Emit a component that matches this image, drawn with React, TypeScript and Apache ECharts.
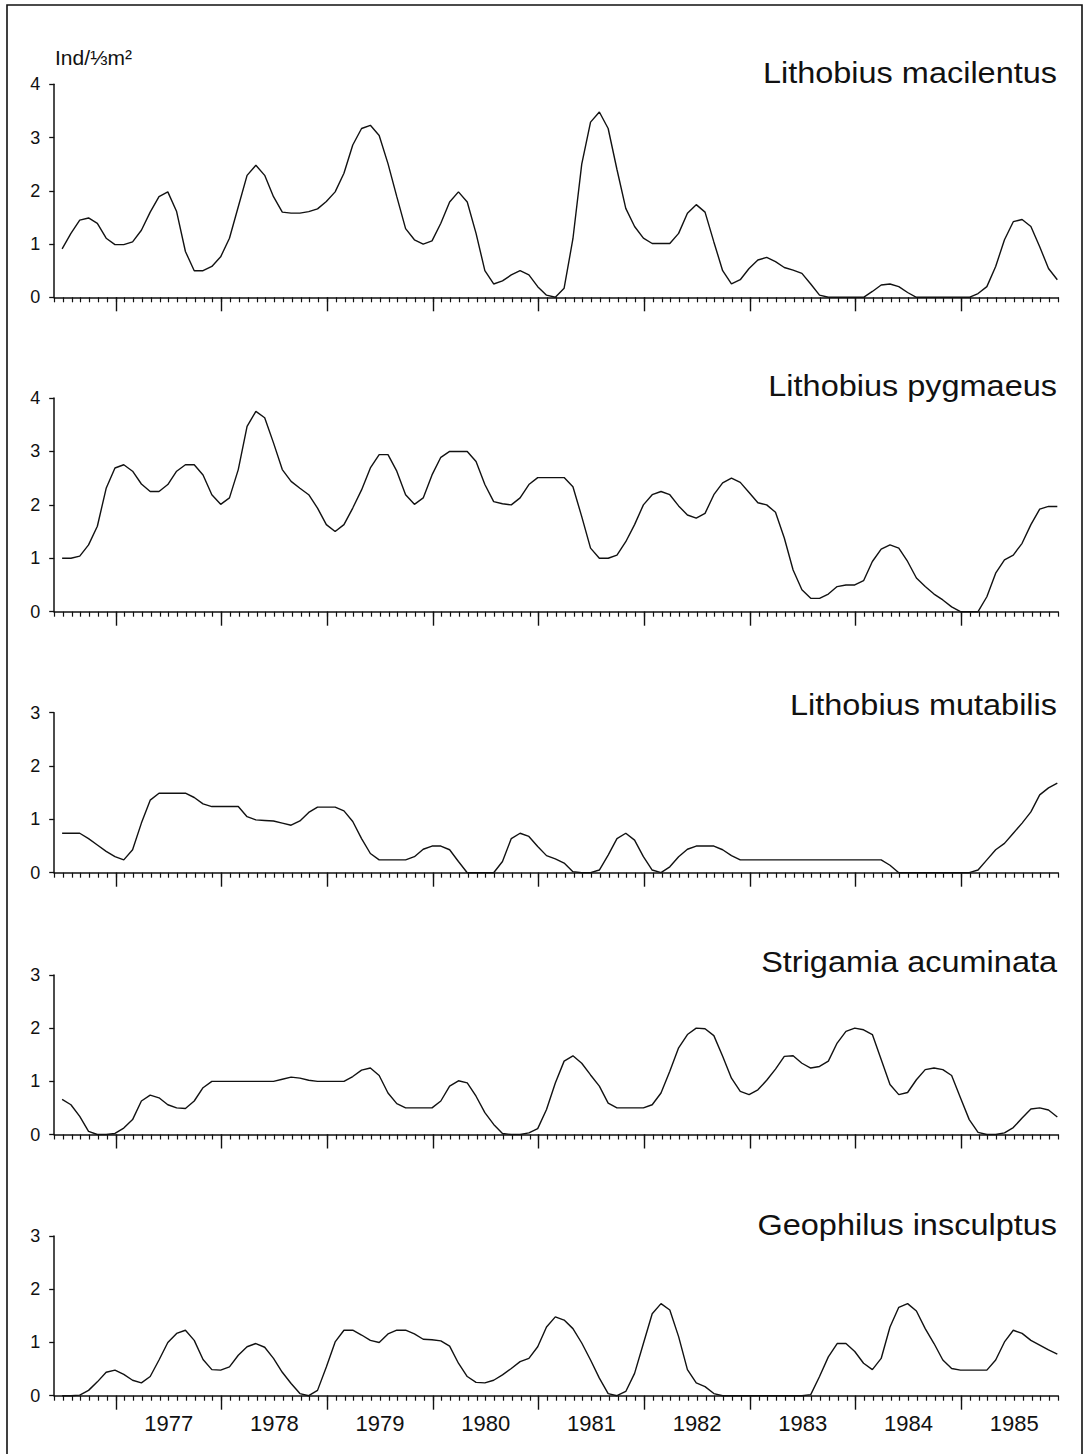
import React, { useEffect, useRef } from "react";
import * as echarts from "echarts";

// x axis: one unit = one month; 0 = first tick of the axis (mid 1976)
const AXIS_MONTHS = 114;
const FIRST_SAMPLE = 0.9;
const YEAR_TICKS = [7, 19, 31, 43, 55, 67, 79, 91, 103];
const YEAR_LABEL_POS = [13, 25, 37, 49, 61, 73, 85, 97, 109];
const YEARS = ["1977", "1978", "1979", "1980", "1981", "1982", "1983", "1984", "1985"];

const TITLES = [
  "Lithobius macilentus",
  "Lithobius pygmaeus",
  "Lithobius mutabilis",
  "Strigamia acuminata",
  "Geophilus insculptus",
];
const Y_MAX = [4, 4, 3, 3, 3];
const UNIT_LABEL = "Ind/⅓m²";

const MACILENTUS = [
  0.91, 1.2, 1.45, 1.49, 1.39, 1.11, 0.99, 0.99, 1.04, 1.26, 1.6, 1.89, 1.98, 1.61, 0.86, 0.5, 0.5, 0.58, 0.76, 1.11,
  1.7, 2.29, 2.48, 2.29, 1.89, 1.6, 1.58, 1.58, 1.61, 1.66, 1.8, 1.98, 2.33, 2.86, 3.17, 3.23, 3.04, 2.51, 1.89, 1.29,
  1.08, 1.0, 1.06, 1.39, 1.79, 1.98, 1.79, 1.2, 0.5, 0.25, 0.31, 0.42, 0.5, 0.42, 0.2, 0.04, 0, 0.17, 1.1, 2.5,
  3.29, 3.48, 3.17, 2.4, 1.67, 1.33, 1.11, 1.01, 1.01, 1.01, 1.2, 1.58, 1.74, 1.6, 1.04, 0.5, 0.25, 0.33, 0.54, 0.7,
  0.75, 0.67, 0.56, 0.51, 0.45, 0.25, 0.04, 0, 0, 0, 0, 0, 0.11, 0.23, 0.25, 0.2, 0.09, 0, 0, 0,
  0, 0, 0, 0, 0.07, 0.2, 0.58, 1.08, 1.42, 1.46, 1.33, 0.95, 0.54, 0.33,
];

const PYGMAEUS = [
  1.0, 1.0, 1.04, 1.25, 1.6, 2.31, 2.69, 2.75, 2.63, 2.39, 2.25, 2.25, 2.38, 2.63, 2.75, 2.75, 2.56, 2.19, 2.01, 2.13,
  2.66, 3.47, 3.75, 3.63, 3.16, 2.66, 2.44, 2.31, 2.19, 1.94, 1.63, 1.5, 1.63, 1.94, 2.28, 2.69, 2.94, 2.94, 2.63, 2.19,
  2.01, 2.13, 2.56, 2.89, 3.0, 3.0, 3.0, 2.81, 2.38, 2.06, 2.02, 2.0, 2.13, 2.38, 2.51, 2.51, 2.51, 2.51, 2.34, 1.78,
  1.19, 1.0, 1.0, 1.06, 1.31, 1.63, 2.0, 2.19, 2.25, 2.19, 1.98, 1.81, 1.75, 1.84, 2.19, 2.41, 2.5, 2.42, 2.23, 2.04,
  2.0, 1.86, 1.38, 0.78, 0.41, 0.25, 0.25, 0.33, 0.47, 0.5, 0.5, 0.58, 0.94, 1.17, 1.25, 1.19, 0.94, 0.63, 0.47, 0.33,
  0.22, 0.09, 0, 0, 0, 0.28, 0.72, 0.97, 1.06, 1.28, 1.63, 1.92, 1.97, 1.97,
];

const MUTABILIS = [
  0.74, 0.74, 0.74, 0.64, 0.52, 0.4, 0.3, 0.24, 0.43, 0.93, 1.36, 1.49, 1.49, 1.49, 1.49, 1.41, 1.29, 1.24, 1.24, 1.24,
  1.24, 1.05, 0.99, 0.98, 0.97, 0.93, 0.89, 0.97, 1.13, 1.23, 1.23, 1.23, 1.16, 0.96, 0.64, 0.36, 0.24, 0.24, 0.24, 0.24,
  0.3, 0.44, 0.5, 0.5, 0.43, 0.21, 0, 0, 0, 0, 0.21, 0.64, 0.74, 0.68, 0.49, 0.32, 0.26, 0.18, 0.02, 0,
  0, 0.05, 0.33, 0.64, 0.74, 0.61, 0.3, 0.05, 0, 0.11, 0.3, 0.44, 0.5, 0.5, 0.5, 0.43, 0.32, 0.24, 0.24, 0.24,
  0.24, 0.24, 0.24, 0.24, 0.24, 0.24, 0.24, 0.24, 0.24, 0.24, 0.24, 0.24, 0.24, 0.24, 0.14, 0, 0, 0, 0, 0,
  0, 0, 0, 0, 0.05, 0.24, 0.43, 0.55, 0.74, 0.93, 1.14, 1.46, 1.59, 1.68,
];

const ACUMINATA = [
  0.66, 0.56, 0.34, 0.06, 0, 0, 0.02, 0.12, 0.28, 0.63, 0.74, 0.69, 0.56, 0.5, 0.49, 0.63, 0.88, 1.0, 1.0, 1.0,
  1.0, 1.0, 1.0, 1.0, 1.0, 1.04, 1.08, 1.06, 1.02, 1.0, 1.0, 1.0, 1.0, 1.09, 1.21, 1.25, 1.11, 0.78, 0.58, 0.5,
  0.5, 0.5, 0.5, 0.63, 0.91, 1.01, 0.97, 0.72, 0.41, 0.19, 0.02, 0, 0, 0.03, 0.11, 0.47, 0.97, 1.38, 1.48, 1.34,
  1.12, 0.91, 0.59, 0.5, 0.5, 0.5, 0.5, 0.56, 0.78, 1.19, 1.63, 1.88, 2.0, 1.99, 1.86, 1.47, 1.06, 0.81, 0.75, 0.84,
  1.02, 1.23, 1.47, 1.48, 1.34, 1.25, 1.28, 1.38, 1.72, 1.94, 2.0, 1.97, 1.88, 1.41, 0.94, 0.75, 0.79, 1.03, 1.22, 1.25,
  1.22, 1.11, 0.69, 0.28, 0.04, 0, 0, 0.03, 0.13, 0.31, 0.48, 0.5, 0.46, 0.33,
];

const INSCULPTUS = [
  0, 0, 0.01, 0.1, 0.26, 0.44, 0.48, 0.4, 0.29, 0.24, 0.36, 0.67, 1.0, 1.17, 1.23, 1.04, 0.68, 0.49, 0.48, 0.54,
  0.76, 0.92, 0.98, 0.91, 0.7, 0.44, 0.23, 0.04, 0, 0.1, 0.54, 1.01, 1.23, 1.23, 1.14, 1.04, 1.0, 1.16, 1.23, 1.23,
  1.16, 1.06, 1.05, 1.03, 0.93, 0.61, 0.36, 0.25, 0.24, 0.29, 0.39, 0.51, 0.64, 0.7, 0.92, 1.29, 1.48, 1.42, 1.26, 0.99,
  0.67, 0.33, 0.04, 0, 0.08, 0.42, 0.98, 1.54, 1.73, 1.61, 1.11, 0.49, 0.24, 0.17, 0.04, 0, 0, 0, 0, 0,
  0, 0, 0, 0, 0, 0.02, 0.36, 0.73, 0.98, 0.98, 0.83, 0.61, 0.49, 0.7, 1.29, 1.66, 1.73, 1.59, 1.26, 0.98,
  0.67, 0.51, 0.48, 0.48, 0.48, 0.48, 0.67, 1.01, 1.23, 1.17, 1.04, 0.95, 0.86, 0.78,
];

const SERIES_VALUES = [MACILENTUS, PYGMAEUS, MUTABILIS, ACUMINATA, INSCULPTUS];

// layout (pixels)
const GRID_LEFT = 54.2;
const GRID_WIDTH = 1004;
const GRID_TOPS = [84.3, 398, 712.7, 975, 1236];
const GRID_HEIGHTS = [213, 213.7, 160, 159.5, 159.7];
const TITLE_Y = [73, 386, 705.5, 962, 1225];

const FONT = '"Liberation Sans", Arial, Helvetica, sans-serif';
const INK = "#111";

export default function App() {
  const ref = useRef<HTMLDivElement>(null);

  useEffect(() => {
    if (!ref.current) return;
    const chart = echarts.init(ref.current, null, { renderer: "svg" });

    const grid: any[] = [];
    const xAxis: any[] = [];
    const yAxis: any[] = [];
    const series: any[] = [];
    const graphic: any[] = [];

    SERIES_VALUES.forEach((vals, g) => {
      grid.push({ left: GRID_LEFT, top: GRID_TOPS[g], width: GRID_WIDTH, height: GRID_HEIGHTS[g], containLabel: false });
      // monthly minor ticks + axis line
      xAxis.push({
        type: "value",
        gridIndex: g,
        position: "bottom",
        min: 0,
        max: AXIS_MONTHS,
        interval: 1,
        axisLine: { show: true, onZero: false, lineStyle: { color: INK, width: 1.5 } },
        axisTick: { show: true, length: 5, lineStyle: { color: INK, width: 1.2 } },
        axisLabel: { show: false },
        splitLine: { show: false },
      });
      // yearly major ticks and year labels
      xAxis.push({
        type: "value",
        gridIndex: g,
        position: "bottom",
        min: 0,
        max: AXIS_MONTHS,
        axisLine: { show: false, onZero: false },
        axisTick: { show: true, length: 14, customValues: YEAR_TICKS, lineStyle: { color: INK, width: 1.4 } },
        axisLabel: {
          show: g === SERIES_VALUES.length - 1,
          customValues: YEAR_LABEL_POS,
          formatter: (v: number) => {
            const idx = YEAR_LABEL_POS.indexOf(Math.round(v));
            return idx >= 0 ? YEARS[idx] : "";
          },
          fontSize: 22,
          fontFamily: FONT,
          color: INK,
          margin: 17,
        },
        splitLine: { show: false },
      });
      yAxis.push({
        type: "value",
        gridIndex: g,
        min: 0,
        max: Y_MAX[g],
        interval: 1,
        axisLine: { show: true, lineStyle: { color: INK, width: 1.5 } },
        axisTick: { show: true, length: 5, lineStyle: { color: INK, width: 1.3 } },
        axisLabel: { fontSize: 18, fontFamily: FONT, color: INK, margin: 14 },
        splitLine: { show: false },
      });
      series.push({
        type: "line",
        name: TITLES[g],
        xAxisIndex: g * 2,
        yAxisIndex: g,
        data: vals.map((v, j) => [FIRST_SAMPLE + j, v]),
        symbol: "none",
        showSymbol: false,
        smooth: false,
        clip: false,
        lineStyle: { color: INK, width: 1.4 },
      });
      graphic.push({
        type: "text",
        x: 1057,
        y: TITLE_Y[g],
        scaleX: 1.12,
        style: {
          text: TITLES[g],
          fill: INK,
          fontSize: 29,
          fontFamily: FONT,
          align: "right",
          verticalAlign: "middle",
          textAlign: "right",
          textVerticalAlign: "middle",
        },
      });
    });

    graphic.push({
      type: "text",
      x: 55,
      y: 57.5,
      style: {
        text: UNIT_LABEL,
        fill: INK,
        fontSize: 21,
        fontFamily: FONT,
        align: "left",
        verticalAlign: "middle",
        textAlign: "left",
        textVerticalAlign: "middle",
      },
    });
    graphic.push({
      type: "rect",
      shape: { x: 7, y: 5, width: 1075, height: 1470 },
      style: { fill: "none", stroke: INK, lineWidth: 1.6 },
      silent: true,
    });

    chart.setOption({
      animation: false,
      backgroundColor: "#ffffff",
      grid,
      xAxis,
      yAxis,
      series,
      graphic,
    });

    return () => chart.dispose();
  }, []);

  return (
    <div
      ref={ref}
      style={{ position: "absolute", left: 0, top: 0, width: 1087, height: 1454, background: "#fff" }}
    />
  );
}
